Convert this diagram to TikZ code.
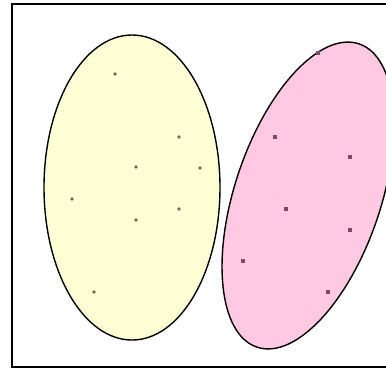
\documentclass[tikz,border=0pt]{standalone}
\usepackage{tikz}

\definecolor{clusterA}{HTML}{FFFFD6}
\definecolor{clusterB}{HTML}{FFC8E3}
\definecolor{dotA}{HTML}{6E6E50}
\definecolor{dotB}{HTML}{7E4A6A}

\begin{document}
\begin{tikzpicture}[x=1pt, y=-1pt]

    % ==========================================
    % VARIABLE DEFINITIONS (Adjust these values)
    % ==========================================
    % Left cluster (upright ellipse)
    \pgfmathsetmacro{\AX}{132}     % centre x
    \pgfmathsetmacro{\AY}{187.5}   % centre y
    \pgfmathsetmacro{\ARx}{88}     % half width
    \pgfmathsetmacro{\ARy}{152.5}  % half height

    % Right cluster (tilted ellipse)
    \pgfmathsetmacro{\BX}{308}     % centre x
    \pgfmathsetmacro{\BY}{195.5}   % centre y
    \pgfmathsetmacro{\BRx}{73}     % minor half axis
    \pgfmathsetmacro{\BRy}{160}    % major half axis
    \pgfmathsetmacro{\BTilt}{-18.6} % tilt from the vertical (y runs down)
    % ==========================================

    % Picture size, the frame runs past the right edge
    \useasboundingbox (0,0) rectangle (386,368);
    \clip (0,0) rectangle (386,368);

    % Outer frame
    \draw[line width=2pt] (12,3.5) rectangle (400,367);

    % Cluster regions
    \draw[fill=clusterA, line width=1.4pt] (\AX,\AY) ellipse [x radius=\ARx, y radius=\ARy];
    \draw[fill=clusterB, line width=1.4pt, rotate around={\BTilt:(\BX,\BY)}]
        (\BX,\BY) ellipse [x radius=\BRx, y radius=\BRy];

    % Sample points in the left cluster
    \foreach \px/\py in {115/74, 179/137, 136/167, 200/168, 72/199, 179/209, 136/220, 94/292}
        \fill[dotA] (\px,\py) circle (1.8pt);

    % Sample points in the right cluster
    \foreach \px/\py in {318/53, 275/137, 350/157, 286/209, 350/230, 243/261, 328/292}
        \fill[dotB] (\px-1.6,\py-1.6) rectangle (\px+1.6,\py+1.6);

\end{tikzpicture}
\end{document}
